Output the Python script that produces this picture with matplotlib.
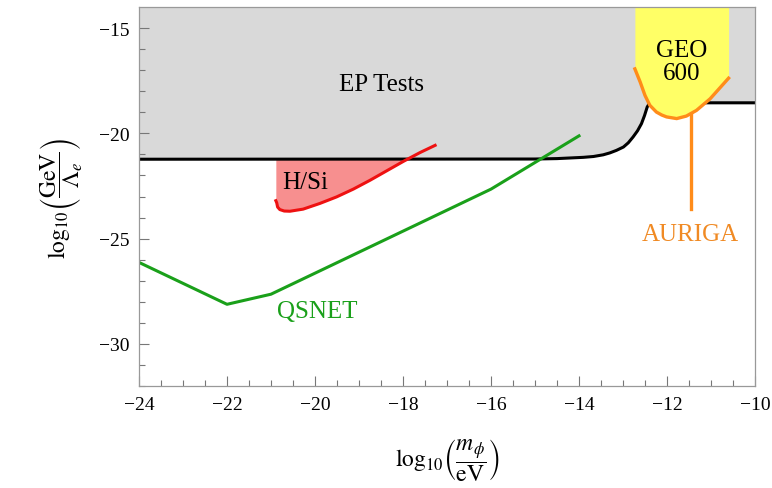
import matplotlib
matplotlib.use("Agg")
import matplotlib.pyplot as plt
import numpy as np

plt.rcParams['mathtext.fontset'] = 'stix'
plt.rcParams['font.family'] = ['Liberation Serif', 'DejaVu Serif']

# EP tests boundary (black)
ep_x = [-24, -15, -14.5, -14.2, -13.9, -13.67, -13.45, -13.3, -13.15, -12.99, -12.88, -12.77,
        -12.67, -12.58, -12.51, -12.45, -12.4, -12.3, -10]
ep_y = [-21.23, -21.22, -21.2, -21.17, -21.14, -21.1, -21.02, -20.93, -20.81, -20.65, -20.45, -20.17,
        -19.88, -19.54, -19.15, -18.75, -18.58, -18.55, -18.55]

# H/Si (red)
hsi_x = [-20.89, -20.87, -20.85, -20.8, -20.7, -20.57, -20.27, -19.89, -19.51, -19.13, -18.75,
         -18.37, -17.99, -17.61, -17.27]
hsi_y = [-23.2, -23.3, -23.5, -23.62, -23.69, -23.7, -23.6, -23.33, -23.02, -22.65, -22.23,
         -21.78, -21.33, -20.91, -20.57]

# QSNET (green)
qs_x = [-24, -22, -21, -16, -14]
qs_y = [-26.13, -28.12, -27.64, -22.65, -20.12]

# GEO 600 (orange boundary)
geo_x = [-12.73, -12.61, -12.5, -12.39, -12.24, -12.12, -12.01, -11.78, -11.56, -11.33, -11.02, -10.6]
geo_y = [-16.94, -17.56, -18.2, -18.67, -18.99, -19.13, -19.22, -19.3, -19.18, -18.91, -18.36, -17.38]

# AURIGA line
aur_x = [-11.46, -11.46]
aur_y = [-19.1, -23.57]

xticks = [-24, -22, -20, -18, -16, -14, -12, -10]
yticks = [-30, -25, -20, -15]

fig = plt.figure(figsize=(7.72, 4.89), dpi=100)
ax = fig.add_axes([139/772, 1-387/489, (755-139)/772, (387-8)/489])
ax.set_xlim(-24, -10)
ax.set_ylim(-32, -14)

gray = '#d9d9d9'
ax.fill_between(ep_x, ep_y, -14, color=gray, lw=0, zorder=1)

# H/Si shaded region between red curve and EP line
hx = np.array(hsi_x)
hy = np.array(hsi_y)
ep_interp = np.interp(hx, ep_x, ep_y)
mask = hy <= ep_interp
xs = list(hx[mask])
ys = list(hy[mask])
for i in range(len(hx) - 1):
    d0 = hy[i] - ep_interp[i]
    d1 = hy[i+1] - ep_interp[i+1]
    if d0 <= 0 < d1:
        t = -d0 / (d1 - d0)
        xcr = hx[i] + t * (hx[i+1] - hx[i])
        xs.append(xcr)
        ys.append(np.interp(xcr, ep_x, ep_y))
ax.fill_between(xs, ys, np.interp(xs, ep_x, ep_y), color='#f78f8f', lw=0, zorder=2)

ax.plot(ep_x, ep_y, color='black', lw=2.2, zorder=3, solid_joinstyle='round')
ax.plot(hsi_x, hsi_y, color='#ee1111', lw=2.2, zorder=4, solid_joinstyle='round')
ax.plot(qs_x, qs_y, color='#1aa01a', lw=2.2, zorder=4)

ax.fill_between(geo_x, geo_y, -14, color='#ffff66', lw=0, zorder=5)
ax.plot(geo_x, geo_y, color='#ff8c1a', lw=2.4, zorder=6, solid_joinstyle='round')
ax.plot(aur_x, aur_y, color='#ff8c1a', lw=2.4, zorder=6)

fs = 18
ax.text(-18.48, -17.64, 'EP Tests', fontsize=fs, ha='center', va='center', zorder=7)
ax.text(-20.23, -22.3, 'H/Si', fontsize=fs, ha='center', va='center', zorder=7)
ax.text(-19.96, -28.46, 'QSNET', fontsize=fs, ha='center', va='center', color='#1aa01a', zorder=7)
ax.text(-11.67, -16.58, 'GEO\n600', fontsize=fs, ha='center', va='center', linespacing=1.05, zorder=7)
ax.text(-11.48, -24.76, 'AURIGA', fontsize=fs, ha='center', va='center', color='#f08a24', zorder=7)

ax.set_xticks(xticks)
ax.set_yticks(yticks)
ax.set_xticklabels(['\u2212%d' % abs(v) for v in xticks])
ax.set_yticklabels(['\u2212%d' % abs(v) for v in yticks])
ax.set_xticks(np.arange(-24, -10, 0.5), minor=True)
ax.set_yticks(np.arange(-32, -14, 1), minor=True)
ax.tick_params(which='both', direction='in', color='#777777', labelsize=14, pad=7)
ax.tick_params(which='major', length=7, width=0.8)
ax.tick_params(which='minor', length=4, width=0.8)
for s in ax.spines.values():
    s.set_color('#999999')
    s.set_linewidth(0.9)
    s.set_zorder(10)

fig.text(447/772, 1-460/489, r'$\log_{10}\!\left(\dfrac{m_\phi}{\mathrm{eV}}\right)$', fontsize=17, ha='center', va='center')
fig.text(62/772, 1-198/489, r'$\log_{10}\!\left(\dfrac{\mathrm{GeV}}{\Lambda_e}\right)$', fontsize=17, ha='center', va='center', rotation=90)

fig.savefig('out.png', dpi=100)
